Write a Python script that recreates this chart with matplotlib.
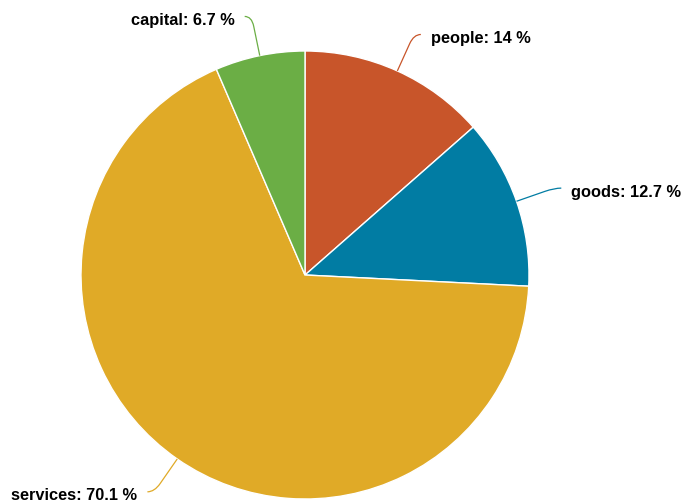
import numpy as np
import matplotlib
matplotlib.use('Agg')
import matplotlib.pyplot as plt
from matplotlib.path import Path
from matplotlib.patches import PathPatch

names = ['people', 'goods', 'services', 'capital']
shares = [14, 12.7, 70.1, 6.7]
colors = ['#C8552A', '#017CA3', '#E0AA27', '#6BAE45']

W, H = 682, 504
cx, cy, radius = 305, 275, 224

fig = plt.figure(figsize=(W / 100, H / 100), dpi=100)
ax = fig.add_axes([0, 0, 1, 1])

# y axis runs downward, so counterclock in data turns clockwise on screen
wedges, _ = ax.pie(
    shares,
    colors=colors,
    startangle=-90,
    counterclock=True,
    center=(cx, cy),
    radius=radius,
    wedgeprops=dict(edgecolor='white', linewidth=1),
)

ax.set_xlim(0, W)
ax.set_ylim(H, 0)
ax.set_aspect('equal')
ax.axis('off')

for wedge, name, val, col in zip(wedges, names, shares, colors):
    mid = np.deg2rad((wedge.theta1 + wedge.theta2) / 2)
    u = np.array([np.cos(mid), np.sin(mid)])
    c = np.array([cx, cy])
    edge = c + radius * u
    knee = c + (radius + 40) * u
    side = 1 if u[0] >= 0 else -1
    start_curve = c + (radius + 30) * u
    end = knee + np.array([side * 7, 0])

    path = Path(
        [edge, start_curve, knee, end],
        [Path.MOVETO, Path.LINETO, Path.CURVE3, Path.CURVE3],
    )
    ax.add_patch(PathPatch(path, facecolor='none', edgecolor=col, linewidth=0.9))

    ax.text(
        end[0] + side * 10, end[1] + 8.5,
        f'{name}: {val:g} %',
        ha='left' if side > 0 else 'right',
        va='baseline',
        fontsize=11.8,
        fontweight='bold',
        family='Liberation Sans',
        color='black',
    )

fig.savefig('out.png', dpi=100)
